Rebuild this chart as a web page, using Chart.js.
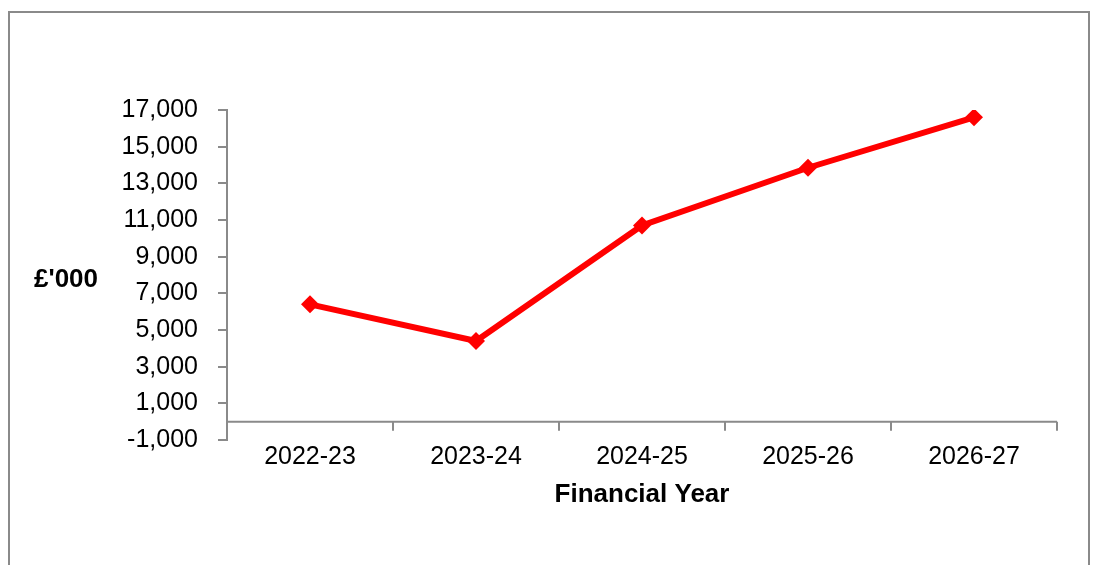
<!DOCTYPE html>
<html lang="en">
<head>
<meta charset="UTF-8">
<title>Financial Year chart</title>
<script src="https://cdn.jsdelivr.net/npm/chart.js"></script>
<style>
  body { margin: 0; background: #fff; }
  #wrap { position: relative; width: 1093px; height: 565px; overflow: hidden; }
  #frame { position: absolute; left: 8px; top: 11px; width: 1078px; height: 600px; border: 2px solid #8a8a8a; }
  canvas { position: absolute; left: 0; top: 0; }
</style>
</head>
<body>
<div id="wrap">
  <div id="frame"></div>
  <canvas id="chart" width="1093" height="565"></canvas>
</div>
<script>
var years = ['2022-23', '2023-24', '2024-25', '2025-26', '2026-27'];
var values = [6400, 4400, 10700, 13850, 16600];
var yMin = -1000, yMax = 17000, yStep = 2000;
var yTitle = "£'000";
var xTitle = 'Financial Year';

var axisColor = '#8a8a8a';
var fontFamily = '"Liberation Sans", Arial, sans-serif';

// Excel-style category axis drawn at zero, plus horizontal titles
var extras = {
    id: 'extras',
    afterDraw: function(chart) {
        var ctx = chart.ctx;
        var y = chart.scales.y;
        var y0 = y.getPixelForValue(0);
        var left = chart.chartArea.left, right = chart.chartArea.right;
        var step = (right - left) / years.length;
        ctx.save();
        ctx.strokeStyle = axisColor;
        ctx.lineWidth = 2;
        ctx.beginPath();
        ctx.moveTo(left, y0);
        ctx.lineTo(right, y0);
        for (var i = 1; i <= years.length; i++) {
            var px = Math.round(left + step * i);
            ctx.moveTo(px, y0);
            ctx.lineTo(px, y0 + 9);
        }
        ctx.stroke();

        ctx.fillStyle = '#000';
        ctx.font = 'bold 26px ' + fontFamily;
        ctx.textBaseline = 'middle';
        ctx.textAlign = 'center';
        ctx.fillText(xTitle, (left + right) / 2, 495);
        ctx.fillText(yTitle, 66, 280);
        ctx.restore();
    }
};

var chart = new Chart(document.getElementById('chart').getContext('2d'), {
    type: 'line',
    data: {
        labels: years,
        datasets: [{
            data: values,
            borderColor: '#ff0000',
            backgroundColor: '#ff0000',
            borderWidth: 6,
            pointStyle: 'rectRot',
            pointRadius: 9,
            pointBorderWidth: 0,
            tension: 0,
            fill: false
        }]
    },
    options: {
        responsive: false,
        animation: false,
        layout: { padding: { left: 0, top: 110, right: 36, bottom: 0 } },
        plugins: { legend: { display: false }, tooltip: { enabled: false } },
        scales: {
            x: {
                offset: true,
                border: { display: false },
                grid: { display: false },
                ticks: {
                    color: '#000',
                    padding: -6,
                    font: { family: fontFamily, size: 25 }
                },
                afterFit: function(s) { s.height = 125; }
            },
            y: {
                min: yMin,
                max: yMax,
                border: { display: true, color: axisColor, width: 2 },
                grid: { drawOnChartArea: false, color: axisColor, lineWidth: 2, tickLength: 9 },
                ticks: {
                    stepSize: yStep,
                    color: '#000',
                    padding: 20,
                    font: { family: fontFamily, size: 25 },
                    callback: function(v) { return v.toLocaleString('en-GB'); }
                },
                afterFit: function(s) { s.width = 227; }
            }
        }
    },
    plugins: [extras]
});
</script>
</body>
</html>
